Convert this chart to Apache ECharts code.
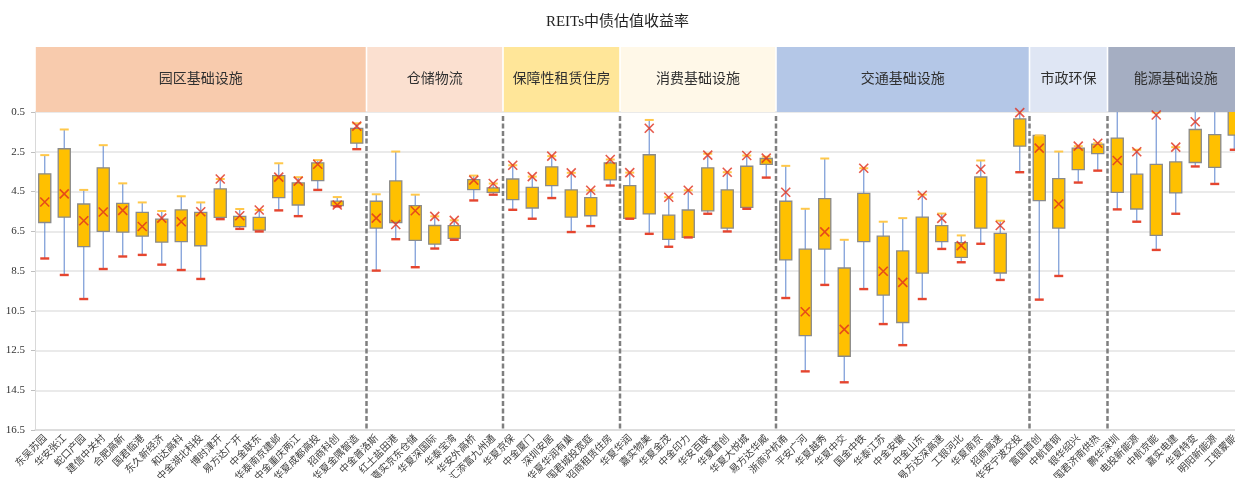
<!DOCTYPE html>
<html>
<head>
<meta charset="utf-8">
<title>REITs中债估值收益率</title>
<script src="https://cdn.jsdelivr.net/npm/echarts@6/dist/echarts.min.js"></script>
<style>
  html, body { margin: 0; padding: 0; background: #fff; }
  #chart { width: 1235px; height: 478px; }
</style>
</head>
<body>
<div id="chart"></div>
<script>
// 分类（按板块顺序）
const categories = [
  '东吴苏园', '华安张江', '蛇口产园', '建信中关村', '合肥高新', '国君临港', '东久新经济', '和达高科',
  '中金湖北科投', '博时津开', '易方达广开', '中金联东', '华泰南京建邺', '中金重庆两江', '华夏成都高投',
  '招商科创', '华夏金隅智造',
  '中金普洛斯', '红土盐田港', '嘉实京东仓储', '华夏深国际', '华泰宝湾', '华安外高桥', '汇添富九州通',
  '华夏京保', '中金厦门', '深圳安居', '华夏华润有巢', '国君城投宽庭', '招商租赁住房',
  '华夏华润', '嘉实物美', '华夏金茂', '中金印力', '华安百联', '华夏首创', '华夏大悦城', '易方达华威',
  '浙商沪杭甬', '平安广河', '华夏越秀', '华夏中交', '国金中铁', '华泰江苏', '中金安徽', '中金山东',
  '易方达深高速', '工银河北', '华夏南京', '招商高速', '华安宁波交投',
  '富国首创', '中航首钢', '银华绍兴', '国君济南供热',
  '鹏华深圳', '电投新能源', '中航京能', '嘉实电建', '华夏特变', '明阳新能源', '工银蒙能'
];

// 板块
const groupNames = ['园区基础设施', '仓储物流', '保障性租赁住房', '消费基础设施', '交通基础设施', '市政环保', '能源基础设施'];
const groupSizes = [17, 7, 6, 8, 13, 4, 7];
const groupColors = ['#F8CBAD', '#FBE0D0', '#FFE699', '#FFF8E8', '#B4C7E7', '#DFE6F4', '#A5AEC2'];

// 收益率分布（%）：须线端、箱体两端、均值
const minVals = [
  2.67, 1.38, 4.42, 2.17, 4.09, 5.05, 5.48, 4.74, 5.05, 3.87, 5.38, 5.43, 3.08, 3.78, 2.92, 4.78, 1.07,
  4.64, 2.49, 4.66, 5.75, 5.95, 3.70, 4.10,
  3.18, 3.75, 2.72, 3.56, 4.44, 2.89,
  3.55, 0.90, 4.79, 4.44, 2.60, 3.53, 2.69, 2.75,
  3.21, 5.37, 2.84, 6.93, 3.33, 6.02, 5.84, 4.66, 5.61, 6.71, 2.94, 5.97, 0.47,
  1.68, 2.49, 2.22, 2.07,
  0.20, 2.40, 0.52, 2.27, 0.20, 0.20, 0.20
];
const q1Vals = [
  3.61, 2.35, 5.13, 3.31, 5.10, 5.55, 5.89, 5.42, 5.55, 4.37, 5.75, 5.80, 3.70, 4.07, 3.06, 4.98, 1.32,
  4.99, 3.97, 5.21, 6.21, 6.22, 3.90, 4.32,
  3.87, 4.29, 3.26, 4.42, 4.81, 3.06,
  4.20, 2.65, 5.69, 5.43, 3.31, 4.42, 3.23, 2.84,
  4.99, 7.40, 4.86, 8.35, 4.59, 6.75, 7.49, 5.79, 6.22, 7.07, 3.77, 6.61, 0.85,
  1.68, 3.85, 2.32, 2.12,
  1.81, 3.63, 3.14, 3.01, 1.38, 1.64, 0.20
];
const q3Vals = [
  6.06, 5.79, 7.27, 6.51, 6.54, 6.75, 7.05, 7.02, 7.23, 5.80, 6.27, 6.44, 4.81, 5.18, 3.95, 5.21, 2.07,
  6.34, 6.06, 6.96, 7.15, 6.86, 4.41, 4.54,
  4.91, 5.33, 4.20, 5.79, 5.72, 3.92,
  5.85, 5.63, 6.91, 6.81, 5.47, 6.34, 5.30, 3.14,
  7.94, 11.75, 7.40, 12.79, 7.02, 9.71, 11.09, 8.61, 7.02, 7.81, 6.34, 8.60, 2.22,
  4.96, 6.34, 3.40, 2.59,
  4.54, 5.38, 6.71, 4.57, 3.04, 3.29, 1.66
];
const maxVals = [
  7.87, 8.70, 9.91, 8.40, 7.77, 7.69, 8.18, 8.45, 8.90, 5.89, 6.38, 6.51, 5.45, 5.74, 4.42, 5.25, 2.37,
  8.48, 6.90, 8.31, 7.37, 6.93, 4.95, 4.66,
  5.42, 5.87, 4.83, 6.54, 6.24, 4.20,
  5.87, 6.63, 7.28, 6.81, 5.62, 6.51, 5.37, 3.80,
  9.86, 13.55, 9.20, 14.10, 9.41, 11.17, 12.23, 9.91, 7.39, 8.06, 7.13, 8.95, 3.53,
  9.94, 8.75, 4.05, 3.45,
  5.40, 6.02, 7.44, 5.62, 3.24, 4.12, 2.40
];
const meanVals = [
  5.03, 4.62, 5.97, 5.53, 5.45, 6.26, 5.84, 6.02, 5.52, 3.87, 5.72, 5.43, 3.78, 3.98, 3.13, 5.18, 1.21,
  5.84, 6.16, 5.47, 5.75, 5.95, 3.93, 4.10,
  3.18, 3.75, 2.72, 3.56, 4.44, 2.89,
  3.55, 1.32, 4.79, 4.44, 2.67, 3.53, 2.69, 2.82,
  4.54, 10.55, 6.53, 11.44, 3.33, 8.51, 9.07, 4.69, 5.85, 7.22, 3.38, 6.21, 0.53,
  2.32, 5.13, 2.22, 2.07,
  2.94, 2.50, 0.65, 2.27, 0.99, 0.30, 0.30
];

// y 轴刻度
const yMin = 0.5, yMax = 16.5, yStep = 2;

// 组合数据
const boxData = categories.map((c, i) => [i, minVals[i], q1Vals[i], q3Vals[i], maxVals[i]]);
const meanData = categories.map((c, i) => [i, meanVals[i]]);
const groupData = [];
let start = 0;
groupSizes.forEach((n, g) => {
  groupData.push([start, start + n - 1, g]);
  start += n;
});
const sepData = groupData.slice(1).map(d => [d[0]]);

function renderBox(params, api) {
  const x = api.value(0);
  const pMin = api.coord([x, api.value(1)]);
  const pQ1 = api.coord([x, api.value(2)]);
  const pQ3 = api.coord([x, api.value(3)]);
  const pMax = api.coord([x, api.value(4)]);
  const bw = api.size([1, 0])[0];
  const boxW = bw * 0.62;
  const capW = bw * 0.46;
  const cx = pQ1[0];
  return {
    type: 'group',
    children: [
      { type: 'line', shape: { x1: cx, y1: pMin[1], x2: cx, y2: pMax[1] },
        style: { stroke: '#5F86CF', lineWidth: 1.2, opacity: 0.85 } },
      { type: 'rect', shape: { x: cx - boxW / 2, y: pQ1[1], width: boxW, height: pQ3[1] - pQ1[1] },
        style: { fill: '#FFC000', stroke: '#8A8A8A', lineWidth: 1.3 } },
      { type: 'line', shape: { x1: cx - capW / 2, y1: pMin[1], x2: cx + capW / 2, y2: pMin[1] },
        style: { stroke: '#FFC84A', lineWidth: 2 } },
      { type: 'line', shape: { x1: cx - capW / 2, y1: pMax[1], x2: cx + capW / 2, y2: pMax[1] },
        style: { stroke: '#E5452F', lineWidth: 2.4 } }
    ]
  };
}

function renderSep(params, api) {
  const bw = api.size([1, 0])[0];
  const p0 = api.coord([api.value(0), yMin]);
  const p1 = api.coord([api.value(0), yMax]);
  const x = p0[0] - bw / 2;
  return {
    type: 'line',
    shape: { x1: x, y1: p0[1] + 4, x2: x, y2: p1[1] },
    style: { stroke: '#7F7F7F', lineWidth: 2.5, lineDash: [5, 2.5] }
  };
}

function renderGroup(params, api) {
  const bw = api.size([1, 0])[0];
  const p0 = api.coord([api.value(0), 1]);
  const p1 = api.coord([api.value(1), 0]);
  const g = api.value(2);
  const x0 = p0[0] - bw / 2 + 0.8;
  const x1 = p1[0] + bw / 2 - 0.8;
  return {
    type: 'group',
    children: [
      { type: 'rect', shape: { x: x0, y: p0[1], width: x1 - x0, height: p1[1] - p0[1] },
        style: { fill: groupColors[g] } },
      { type: 'text', x: (x0 + x1) / 2, y: (p0[1] + p1[1]) / 2 - 2,
        style: { text: groupNames[g], fill: '#303030', align: 'center', verticalAlign: 'middle',
                 font: '14px "Noto Sans CJK SC", sans-serif' } }
    ]
  };
}

const chart = echarts.init(document.getElementById('chart'));
const option = {
  animation: false,
  title: {
    text: 'REITs中债估值收益率',
    left: 'center',
    top: 10,
    textStyle: { fontSize: 15, fontWeight: 'normal', color: '#222', fontFamily: '"Liberation Serif", "Noto Sans CJK SC", serif' }
  },
  grid: [
    { left: 35, right: -9, top: 112, bottom: 48, outerBoundsMode: 'none' },
    { left: 35, right: -9, top: 47, height: 65, outerBoundsMode: 'none' }
  ],
  xAxis: [
    {
      type: 'category', data: categories, gridIndex: 0,
      axisLine: { lineStyle: { color: '#D9D9D9', width: 1.5 } },
      axisTick: { show: false },
      axisLabel: { interval: 0, rotate: 45, fontSize: 10, color: '#404040', margin: 6,
                   fontFamily: '"Noto Sans CJK SC", sans-serif' }
    },
    { type: 'category', data: categories, gridIndex: 1, show: false }
  ],
  yAxis: [
    {
      type: 'value', gridIndex: 0, inverse: true, min: yMin, max: yMax, interval: yStep,
      axisLine: { show: true, lineStyle: { color: '#D9D9D9' } },
      axisTick: { show: true, length: 4, lineStyle: { color: '#BFBFBF' } },
      axisLabel: { fontSize: 11, color: '#333', margin: 10, fontFamily: '"Liberation Serif", serif' },
      splitLine: { lineStyle: { color: '#E3E3E3', width: 1.5 } }
    },
    { type: 'value', gridIndex: 1, min: 0, max: 1, show: false }
  ],
  series: [
    {
      name: '板块', type: 'custom', xAxisIndex: 1, yAxisIndex: 1,
      renderItem: renderGroup, data: groupData, silent: true
    },
    {
      name: '分隔', type: 'custom', xAxisIndex: 0, yAxisIndex: 0,
      renderItem: renderSep, data: sepData, silent: true, clip: false
    },
    {
      name: '收益率', type: 'custom', xAxisIndex: 0, yAxisIndex: 0,
      renderItem: renderBox, data: boxData, clip: true,
      encode: { x: 0, y: [1, 2, 3, 4] }
    },
    {
      name: '均值', type: 'scatter', xAxisIndex: 0, yAxisIndex: 0,
      data: meanData, clip: true,
      symbol: 'path://M0,0L10,10M10,0L0,10', symbolSize: 9,
      itemStyle: { color: 'rgba(0,0,0,0)', borderColor: '#E0301E', borderWidth: 1.6 },
      z: 5
    }
  ]
};
chart.setOption(option);
window.addEventListener('resize', chart.resize);
</script>
</body>
</html>
